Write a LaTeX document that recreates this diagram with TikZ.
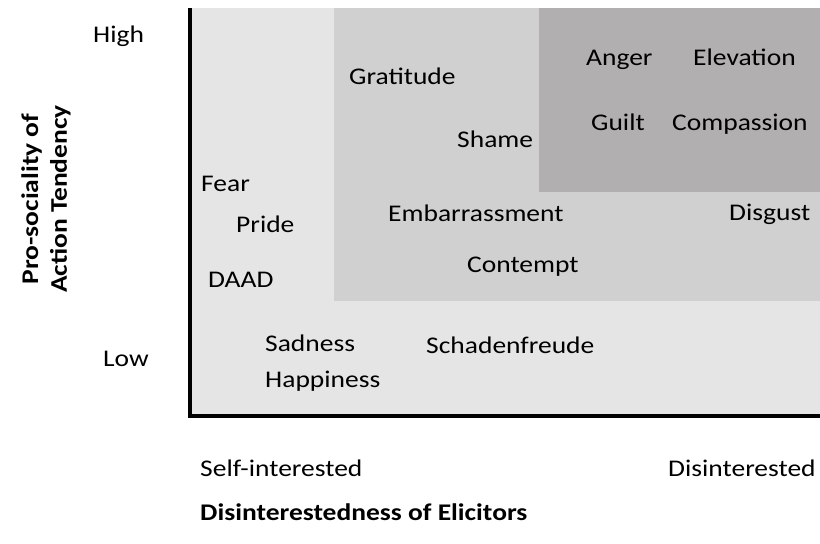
\documentclass[tikz,border=0pt]{standalone}
\usepackage{fontspec}
\setmainfont{Carlito}[FakeStretch=1.15]
\definecolor{zoneLow}{RGB}{230,229,230}
\definecolor{zoneMid}{RGB}{209,208,209}
\definecolor{zoneHigh}{RGB}{177,175,176}
\newcommand{\emofont}{\fontsize{24}{29}\selectfont}

\begin{document}
\begin{tikzpicture}[x=1bp, y=-1bp,
		emo/.style={anchor=base west, inner sep=0pt, font=\emofont},
		axtitle/.style={anchor=base west, inner sep=0pt, font=\emofont\bfseries}]
		%%%%% START %%%%%
		\useasboundingbox (0, 0) rectangle (820, 544);
		
		% shaded zones
		\fill[zoneLow] (190, 8) rectangle (820, 416);
		\fill[zoneMid] (334, 8) rectangle (820, 301);
		\fill[zoneHigh] (539, 8) rectangle (820, 192);
		
		% axes
		\draw[line width=4.5bp] (190, 8) -- (190, 416) -- (820, 416);
		
		% emotions, high zone
		\node[emo] (anger) at (586, 66) {Anger};
		\node[emo] (elevation) at (693, 66) {Elevation};
		\node[emo] (guilt) at (591, 131) {Guilt};
		\node[emo] (compassion) at (672, 131) {Compassion};
		
		% emotions, middle zone
		\node[emo] (gratitude) at (349, 85) {Gratitude};
		\node[emo] (shame) at (457, 148) {Shame};
		\node[emo] (embarrassment) at (388, 222) {Embarrassment};
		\node[emo] (disgust) at (729, 221) {Disgust};
		\node[emo] (contempt) at (467, 273) {Contempt};
		
		% emotions, low zone
		\node[emo] (fear) at (201, 192) {Fear};
		\node[emo] (pride) at (236, 233) {Pride};
		\node[emo] (daad) at (208, 288) {DAAD};
		\node[emo] (sadness) at (265, 351) {Sadness};
		\node[emo] (happiness) at (265, 387) {Happiness};
		\node[emo] (schadenfreude) at (426, 353) {Schadenfreude};
		
		% axis labels
		\node[emo] (high) at (93, 43) {High};
		\node[emo] (low) at (103, 366) {Low};
		\node[emo] (selfint) at (200, 476) {Self-interested};
		\node[emo] (disint) at (668, 476) {Disinterested};
		\node[axtitle] (xtitle) at (200, 520) {Disinterestedness of Elicitors};
		\node[rotate=90, align=center, inner sep=0pt, font=\emofont\bfseries] (ytitle) at (46, 199) {Pro-sociality of\\Action Tendency};
		%%%%% END %%%%%
\end{tikzpicture}
\end{document}
